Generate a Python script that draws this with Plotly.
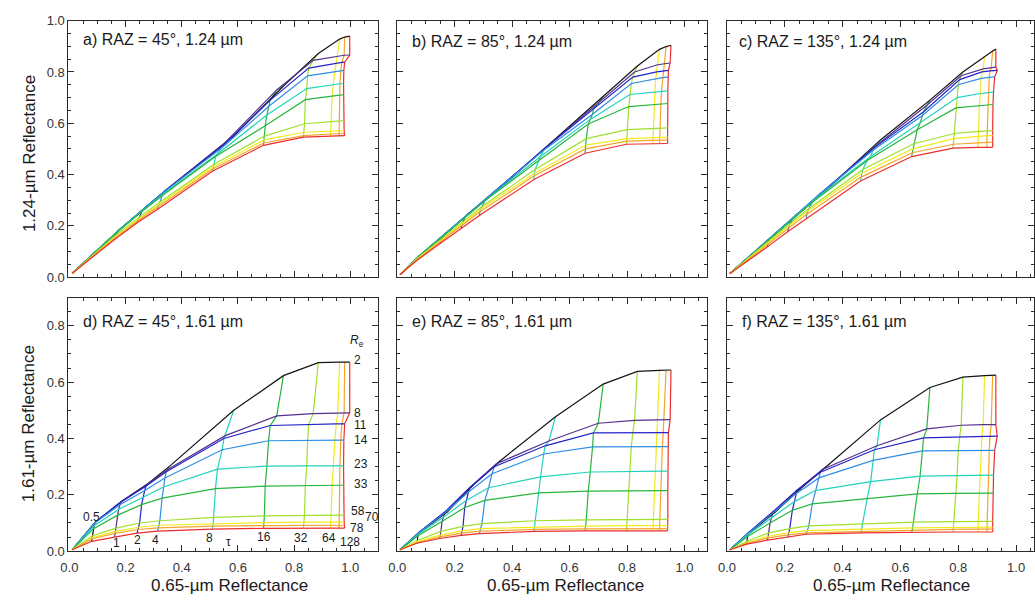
import plotly.graph_objects as go

W, H = 1035, 605
FONT = "Liberation Sans, Arial, Helvetica, sans-serif"

# ---------------- data ----------------
# rows: constant-Re curves (black -> red), columns: tau nodes
tau_nodes = ["0", "0.5", "1", "2", "4", "8", "16", "32", "64", "128", "max"]
re_labels = ["2", "8", "11", "14", "23", "33", "58", "70", "78"]
tau_labels = ["0.5", "1", "2", "4", "8", "16", "32", "64", "128"]

line_colors = ["#141414", "#55308f", "#2424c8", "#2f8fe4", "#22d2bd",
               "#27b63c", "#9fe02c", "#f1eb1e", "#f4a42a", "#ec2d2d"]

# 0.65-um reflectance, RAZ = 45
X45 = [
    [0.010, 0.095, 0.190, 0.280, 0.355, 0.585, 0.762, 0.886, 0.962, 0.980, 0.998],
    [0.010, 0.093, 0.185, 0.275, 0.350, 0.555, 0.738, 0.868, 0.955, 0.978, 0.998],
    [0.010, 0.092, 0.183, 0.272, 0.345, 0.550, 0.715, 0.852, 0.950, 0.970, 0.980],
    [0.010, 0.090, 0.180, 0.268, 0.340, 0.544, 0.709, 0.848, 0.945, 0.966, 0.977],
    [0.010, 0.088, 0.175, 0.262, 0.335, 0.527, 0.703, 0.845, 0.940, 0.963, 0.976],
    [0.010, 0.086, 0.172, 0.257, 0.330, 0.520, 0.697, 0.840, 0.935, 0.962, 0.976],
    [0.010, 0.083, 0.166, 0.250, 0.322, 0.515, 0.694, 0.837, 0.932, 0.961, 0.977],
    [0.010, 0.082, 0.164, 0.246, 0.318, 0.512, 0.693, 0.835, 0.931, 0.960, 0.978],
    [0.010, 0.081, 0.162, 0.244, 0.316, 0.510, 0.692, 0.834, 0.930, 0.960, 0.979],
    [0.010, 0.079, 0.161, 0.241, 0.314, 0.509, 0.691, 0.833, 0.929, 0.960, 0.980],
]
# 0.65-um reflectance, RAZ = 85
X85 = [
    [0.010, 0.080, 0.175, 0.262, 0.360, 0.551, 0.717, 0.836, 0.913, 0.936, 0.953],
    [0.010, 0.078, 0.170, 0.255, 0.345, 0.528, 0.700, 0.826, 0.906, 0.930, 0.950],
    [0.010, 0.077, 0.168, 0.252, 0.338, 0.515, 0.683, 0.820, 0.903, 0.926, 0.944],
    [0.010, 0.076, 0.165, 0.248, 0.330, 0.510, 0.680, 0.815, 0.900, 0.923, 0.943],
    [0.010, 0.074, 0.160, 0.240, 0.318, 0.499, 0.672, 0.810, 0.897, 0.920, 0.942],
    [0.010, 0.072, 0.156, 0.235, 0.305, 0.493, 0.665, 0.806, 0.895, 0.918, 0.942],
    [0.010, 0.070, 0.152, 0.229, 0.295, 0.480, 0.658, 0.801, 0.892, 0.915, 0.942],
    [0.010, 0.069, 0.150, 0.226, 0.290, 0.478, 0.656, 0.800, 0.891, 0.914, 0.942],
    [0.010, 0.069, 0.149, 0.224, 0.288, 0.477, 0.655, 0.799, 0.890, 0.913, 0.942],
    [0.010, 0.068, 0.148, 0.223, 0.286, 0.476, 0.654, 0.798, 0.890, 0.913, 0.941],
]
# 0.65-um reflectance, RAZ = 135
X135 = [
    [0.010, 0.078, 0.168, 0.255, 0.342, 0.531, 0.702, 0.816, 0.891, 0.919, 0.930],
    [0.010, 0.076, 0.163, 0.247, 0.330, 0.519, 0.691, 0.810, 0.886, 0.914, 0.930],
    [0.010, 0.075, 0.160, 0.243, 0.323, 0.510, 0.680, 0.805, 0.882, 0.910, 0.935],
    [0.010, 0.074, 0.158, 0.240, 0.318, 0.505, 0.676, 0.800, 0.879, 0.907, 0.926],
    [0.010, 0.072, 0.153, 0.232, 0.305, 0.497, 0.668, 0.796, 0.876, 0.905, 0.922],
    [0.010, 0.071, 0.149, 0.226, 0.295, 0.485, 0.658, 0.792, 0.873, 0.903, 0.920],
    [0.010, 0.069, 0.144, 0.217, 0.283, 0.470, 0.646, 0.786, 0.870, 0.900, 0.919],
    [0.010, 0.069, 0.142, 0.214, 0.279, 0.466, 0.643, 0.784, 0.869, 0.900, 0.919],
    [0.010, 0.068, 0.141, 0.212, 0.276, 0.464, 0.641, 0.783, 0.868, 0.899, 0.919],
    [0.010, 0.068, 0.140, 0.211, 0.274, 0.462, 0.639, 0.782, 0.868, 0.899, 0.919],
]
# 1.24-um reflectance
Y_a = [
    [0.015, 0.100, 0.195, 0.280, 0.350, 0.550, 0.745, 0.872, 0.928, 0.936, 0.940],
    [0.015, 0.099, 0.192, 0.276, 0.345, 0.525, 0.730, 0.845, 0.862, 0.865, 0.866],
    [0.015, 0.098, 0.190, 0.273, 0.340, 0.515, 0.690, 0.815, 0.835, 0.837, 0.838],
    [0.015, 0.097, 0.187, 0.270, 0.335, 0.505, 0.665, 0.785, 0.803, 0.805, 0.806],
    [0.015, 0.095, 0.182, 0.262, 0.325, 0.480, 0.632, 0.735, 0.752, 0.754, 0.755],
    [0.015, 0.092, 0.177, 0.255, 0.317, 0.470, 0.590, 0.692, 0.708, 0.710, 0.711],
    [0.015, 0.085, 0.163, 0.235, 0.292, 0.440, 0.550, 0.598, 0.607, 0.609, 0.610],
    [0.015, 0.082, 0.158, 0.227, 0.283, 0.430, 0.535, 0.565, 0.570, 0.571, 0.571],
    [0.015, 0.080, 0.153, 0.220, 0.275, 0.422, 0.523, 0.552, 0.558, 0.560, 0.560],
    [0.015, 0.077, 0.147, 0.212, 0.265, 0.413, 0.514, 0.546, 0.550, 0.552, 0.552],
]
Y_b = [
    [0.010, 0.085, 0.175, 0.260, 0.350, 0.540, 0.705, 0.823, 0.888, 0.899, 0.904],
    [0.010, 0.084, 0.172, 0.255, 0.340, 0.515, 0.680, 0.800, 0.828, 0.833, 0.835],
    [0.010, 0.083, 0.170, 0.252, 0.333, 0.503, 0.655, 0.780, 0.800, 0.804, 0.806],
    [0.010, 0.082, 0.168, 0.248, 0.325, 0.495, 0.635, 0.755, 0.775, 0.778, 0.780],
    [0.010, 0.080, 0.162, 0.238, 0.310, 0.470, 0.615, 0.712, 0.722, 0.725, 0.726],
    [0.010, 0.078, 0.157, 0.231, 0.298, 0.455, 0.597, 0.665, 0.674, 0.676, 0.677],
    [0.010, 0.073, 0.146, 0.215, 0.275, 0.420, 0.540, 0.575, 0.580, 0.581, 0.582],
    [0.010, 0.070, 0.141, 0.207, 0.265, 0.405, 0.515, 0.540, 0.545, 0.546, 0.546],
    [0.010, 0.068, 0.137, 0.200, 0.255, 0.395, 0.500, 0.530, 0.534, 0.535, 0.535],
    [0.010, 0.065, 0.130, 0.190, 0.240, 0.381, 0.483, 0.518, 0.521, 0.521, 0.521],
]
Y_c = [
    [0.014, 0.080, 0.168, 0.255, 0.340, 0.535, 0.690, 0.800, 0.862, 0.882, 0.889],
    [0.014, 0.079, 0.166, 0.250, 0.332, 0.515, 0.670, 0.785, 0.812, 0.817, 0.819],
    [0.014, 0.078, 0.164, 0.247, 0.326, 0.505, 0.645, 0.770, 0.800, 0.804, 0.806],
    [0.014, 0.077, 0.161, 0.243, 0.320, 0.495, 0.630, 0.750, 0.775, 0.779, 0.781],
    [0.014, 0.075, 0.155, 0.233, 0.305, 0.470, 0.600, 0.700, 0.716, 0.720, 0.721],
    [0.014, 0.073, 0.150, 0.225, 0.292, 0.455, 0.575, 0.660, 0.670, 0.672, 0.673],
    [0.014, 0.068, 0.138, 0.207, 0.268, 0.420, 0.520, 0.560, 0.568, 0.570, 0.571],
    [0.014, 0.066, 0.133, 0.199, 0.258, 0.405, 0.500, 0.540, 0.550, 0.552, 0.552],
    [0.014, 0.063, 0.127, 0.190, 0.245, 0.390, 0.485, 0.518, 0.524, 0.526, 0.526],
    [0.014, 0.060, 0.118, 0.178, 0.228, 0.375, 0.470, 0.503, 0.506, 0.506, 0.506],
]
# 1.61-um reflectance
Y_d = [
    [0.005, 0.105, 0.180, 0.240, 0.300, 0.500, 0.623, 0.669, 0.671, 0.671, 0.671],
    [0.005, 0.104, 0.176, 0.235, 0.290, 0.410, 0.480, 0.488, 0.490, 0.491, 0.491],
    [0.005, 0.103, 0.174, 0.230, 0.282, 0.400, 0.446, 0.451, 0.452, 0.452, 0.452],
    [0.005, 0.100, 0.165, 0.215, 0.260, 0.360, 0.392, 0.394, 0.394, 0.394, 0.394],
    [0.005, 0.090, 0.148, 0.190, 0.228, 0.291, 0.302, 0.303, 0.303, 0.303, 0.303],
    [0.005, 0.080, 0.128, 0.165, 0.188, 0.222, 0.231, 0.234, 0.234, 0.234, 0.234],
    [0.005, 0.055, 0.082, 0.100, 0.108, 0.120, 0.125, 0.128, 0.128, 0.128, 0.128],
    [0.005, 0.048, 0.070, 0.085, 0.092, 0.098, 0.101, 0.103, 0.103, 0.103, 0.103],
    [0.005, 0.044, 0.063, 0.077, 0.083, 0.089, 0.091, 0.092, 0.092, 0.092, 0.092],
    [0.005, 0.035, 0.050, 0.064, 0.071, 0.078, 0.081, 0.082, 0.082, 0.082, 0.082],
]
Y_e = [
    [0.005, 0.068, 0.140, 0.232, 0.322, 0.477, 0.593, 0.638, 0.642, 0.643, 0.643],
    [0.005, 0.068, 0.142, 0.228, 0.310, 0.391, 0.454, 0.464, 0.466, 0.467, 0.467],
    [0.005, 0.068, 0.141, 0.225, 0.300, 0.374, 0.420, 0.421, 0.421, 0.421, 0.421],
    [0.005, 0.066, 0.135, 0.210, 0.275, 0.345, 0.370, 0.371, 0.371, 0.371, 0.371],
    [0.005, 0.060, 0.120, 0.180, 0.225, 0.264, 0.281, 0.284, 0.284, 0.284, 0.284],
    [0.005, 0.055, 0.105, 0.155, 0.180, 0.207, 0.213, 0.215, 0.215, 0.215, 0.215],
    [0.005, 0.038, 0.070, 0.088, 0.098, 0.108, 0.111, 0.113, 0.113, 0.113, 0.113],
    [0.005, 0.033, 0.057, 0.072, 0.080, 0.086, 0.089, 0.091, 0.091, 0.091, 0.091],
    [0.005, 0.030, 0.051, 0.064, 0.071, 0.077, 0.079, 0.080, 0.080, 0.080, 0.080],
    [0.005, 0.028, 0.045, 0.056, 0.062, 0.070, 0.072, 0.072, 0.072, 0.072, 0.072],
]
Y_f = [
    [0.005, 0.065, 0.140, 0.222, 0.299, 0.466, 0.581, 0.618, 0.623, 0.625, 0.625],
    [0.005, 0.066, 0.142, 0.220, 0.290, 0.374, 0.434, 0.447, 0.449, 0.449, 0.449],
    [0.005, 0.066, 0.141, 0.217, 0.280, 0.360, 0.402, 0.406, 0.408, 0.408, 0.408],
    [0.005, 0.064, 0.135, 0.205, 0.260, 0.322, 0.356, 0.358, 0.358, 0.358, 0.358],
    [0.005, 0.058, 0.118, 0.175, 0.215, 0.247, 0.266, 0.269, 0.270, 0.270, 0.270],
    [0.005, 0.052, 0.100, 0.145, 0.168, 0.187, 0.203, 0.205, 0.206, 0.206, 0.206],
    [0.005, 0.035, 0.065, 0.080, 0.090, 0.097, 0.103, 0.105, 0.106, 0.106, 0.106],
    [0.005, 0.030, 0.053, 0.066, 0.073, 0.078, 0.083, 0.084, 0.085, 0.085, 0.085],
    [0.005, 0.028, 0.047, 0.058, 0.065, 0.070, 0.075, 0.077, 0.078, 0.078, 0.078],
    [0.005, 0.025, 0.039, 0.051, 0.060, 0.065, 0.068, 0.068, 0.068, 0.068, 0.068],
]

panel_titles = ["a) RAZ = 45°, 1.24 µm", "b) RAZ = 85°, 1.24 µm", "c) RAZ = 135°, 1.24 µm",
                "d) RAZ = 45°, 1.61 µm", "e) RAZ = 85°, 1.61 µm", "f) RAZ = 135°, 1.61 µm"]

# ---------------- layout geometry (pixels) ----------------
col_px = [(60, 373), (392, 705), (725, 1035)]
row_px = [(14, 277), (298, 558)]
x_ranges = [[-0.0035, 1.10], [0.0, 1.079], [0.0, 1.062]]
y_ranges = [[0.0, 1.0], [0.0, 0.9]]

panels = [
    (X45, Y_a), (X85, Y_b), (X135, Y_c),
    (X45, Y_d), (X85, Y_e), (X135, Y_f),
]

fig = go.Figure()
n_re = len(X45)
n_tau = len(tau_nodes)

for k, (XX, YY) in enumerate(panels):
    sfx = "" if k == 0 else str(k + 1)
    xa, ya = "x" + sfx, "y" + sfx
    # constant-tau lines
    for j in range(1, n_tau):
        fig.add_trace(go.Scatter(
            x=[XX[i][j] for i in range(n_re)], y=[YY[i][j] for i in range(n_re)],
            mode="lines", line=dict(color=line_colors[j - 1], width=1.2),
            xaxis=xa, yaxis=ya, showlegend=False, hoverinfo="skip"))
    # constant-Re lines
    for i in range(n_re):
        fig.add_trace(go.Scatter(
            x=XX[i], y=YY[i], mode="lines",
            line=dict(color=line_colors[i], width=1.2),
            xaxis=xa, yaxis=ya, showlegend=False, hoverinfo="skip"))

axis_common = dict(
    showline=True, linecolor="#2a2a2a", linewidth=1, mirror="allticks",
    ticks="inside", ticklen=6, tickwidth=1, tickcolor="#2a2a2a",
    showgrid=False, zeroline=False,
    minor=dict(ticks="inside", ticklen=3, dtick=0.05, tickcolor="#2a2a2a", showgrid=False),
    tickfont=dict(family=FONT, size=13, color="#333"),
    tickformat=".1f",
)

layout = dict(
    width=W, height=H, margin=dict(l=0, r=0, t=0, b=0),
    paper_bgcolor="white", plot_bgcolor="white",
    font=dict(family=FONT, color="#222"),
)

for k in range(6):
    r, c = divmod(k, 3)
    sfx = "" if k == 0 else str(k + 1)
    x0, x1 = col_px[c]
    y0, y1 = row_px[r]
    xd = [x0 / W, min(x1 / W, 1.0)]
    yd = [(H - y1) / H, (H - y0) / H]
    xax = dict(axis_common, domain=xd, range=x_ranges[c], anchor="y" + sfx,
               tickvals=[0, 0.2, 0.4, 0.6, 0.8, 1.0], showticklabels=(r == 1),
               ticklabelstandoff=4)
    yvals = [0, 0.2, 0.4, 0.6, 0.8, 1.0] if r == 0 else [0, 0.2, 0.4, 0.6, 0.8]
    yax = dict(axis_common, domain=yd, range=y_ranges[r], anchor="x" + sfx,
               tickvals=yvals, showticklabels=(c == 0))
    layout["xaxis" + sfx] = xax
    layout["yaxis" + sfx] = yax

annotations = []
# panel titles
title_pos = [(73, 33), (405, 35), (735, 35), (73, 323), (405, 323), (738, 323)]
for t, (px, py) in zip(panel_titles, title_pos):
    annotations.append(dict(text=t, x=px / W, y=(H - py) / H, xref="paper", yref="paper",
                            xanchor="left", yanchor="middle", showarrow=False,
                            font=dict(family=FONT, size=16, color="#1a1a1a")))
# axis titles
annotations.append(dict(text="1.24-µm Reflectance", x=20 / W, y=(H - 150) / H, xref="paper",
                        yref="paper", textangle=-90, xanchor="center", yanchor="middle",
                        showarrow=False, font=dict(family=FONT, size=17, color="#1a1a1a")))
annotations.append(dict(text="1.61-µm Reflectance", x=20 / W, y=(H - 427) / H, xref="paper",
                        yref="paper", textangle=-90, xanchor="center", yanchor="middle",
                        showarrow=False, font=dict(family=FONT, size=17, color="#1a1a1a")))
for cx in (223, 562, 891):
    annotations.append(dict(text="0.65-µm Reflectance", x=cx / W, y=(H - 593) / H,
                            xref="paper", yref="paper", xanchor="center", yanchor="middle",
                            showarrow=False, font=dict(family=FONT, size=17, color="#1a1a1a")))

# Re labels in panel d
re_label_pos = [(1.005, 0.679), (1.005, 0.489), (1.005, 0.449), (1.005, 0.394),
                (1.005, 0.310), (1.005, 0.238), (0.995, 0.143), (1.045, 0.120),
                (0.990, 0.083)]
lab_font = dict(family=FONT, size=12, color="#1a1a1a")
for lab, (lx, ly) in zip(re_labels, re_label_pos):
    annotations.append(dict(text=lab, x=lx, y=ly, xref="x4", yref="y4", xanchor="left",
                            yanchor="middle", showarrow=False, font=lab_font))
annotations.append(dict(text="<i>R</i><sub>e</sub>", x=0.99, y=0.745, xref="x4", yref="y4",
                        xanchor="left", yanchor="middle", showarrow=False, font=lab_font))
# tau labels in panel d
tau_label_pos = [(0.080, 0.120), (0.167, 0.030), (0.241, 0.040), (0.308, 0.041),
                 (0.500, 0.047), (0.692, 0.049), (0.825, 0.045), (0.925, 0.045),
                 (1.000, 0.034)]
for lab, (lx, ly) in zip(tau_labels, tau_label_pos):
    annotations.append(dict(text=lab, x=lx, y=ly, xref="x4", yref="y4", xanchor="center",
                            yanchor="middle", showarrow=False, font=lab_font))
annotations.append(dict(text="τ", x=0.567, y=0.033, xref="x4", yref="y4", showarrow=False,
                        xanchor="center", yanchor="middle", font=lab_font))

layout["annotations"] = annotations
fig.update_layout(**layout)
fig.write_html("out.html")
